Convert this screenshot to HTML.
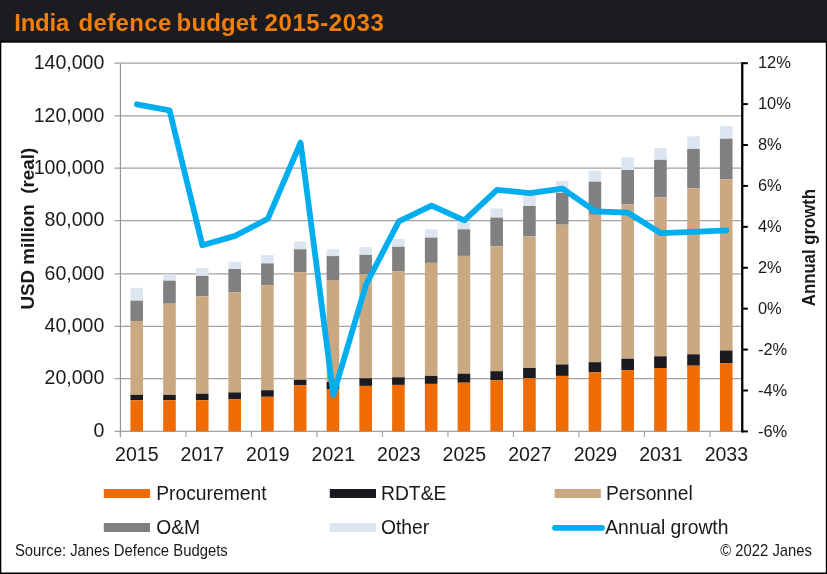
<!DOCTYPE html>
<html lang="en"><head><meta charset="utf-8"><title>India defence budget 2015-2033</title>
<style>
html,body{margin:0;padding:0;background:#fff;}
body{width:827px;height:574px;position:relative;overflow:hidden;font-family:"Liberation Sans",Arial,sans-serif;}
#hdr{position:absolute;left:0;top:0;width:827px;height:42px;background:#1c1c20;}
#hdr h1{margin:0;position:absolute;left:0;top:9.2px;width:400px;height:28px;font-size:24px;line-height:28px;font-weight:bold;color:#f07e0a;white-space:nowrap;}
#hdr h1 span{position:absolute;top:0;}
#hdr{will-change:transform}
</style></head><body>
<div id="hdr"><h1><span style="left:14.2px;letter-spacing:-0.2px">India</span> <span style="left:78.4px;letter-spacing:0.38px">defence</span> <span style="left:176.6px;letter-spacing:0.14px">budget</span> <span style="left:264.6px;letter-spacing:0.56px">2015-2033</span></h1></div>
<svg width="827" height="574" viewBox="0 0 827 574" style="position:absolute;left:0;top:0;will-change:transform">
<rect x="0" y="40.7" width="827" height="2" fill="#060608"/><rect x="0" y="42" width="1.3" height="532" fill="#000"/><rect x="825.8" y="42" width="1.2" height="532" fill="#000"/><rect x="0" y="572.5" width="827" height="1.5" fill="#000"/>
<line x1="114.45" y1="431.35" x2="742.25" y2="431.35" stroke="#a2a2a2" stroke-width="1.2"/>
<line x1="114.45" y1="378.60" x2="742.25" y2="378.60" stroke="#a2a2a2" stroke-width="1.2"/>
<line x1="114.45" y1="326.30" x2="742.25" y2="326.30" stroke="#a2a2a2" stroke-width="1.2"/>
<line x1="114.45" y1="273.90" x2="742.25" y2="273.90" stroke="#a2a2a2" stroke-width="1.2"/>
<line x1="114.45" y1="220.70" x2="742.25" y2="220.70" stroke="#a2a2a2" stroke-width="1.2"/>
<line x1="114.45" y1="168.20" x2="742.25" y2="168.20" stroke="#a2a2a2" stroke-width="1.2"/>
<line x1="114.45" y1="115.80" x2="742.25" y2="115.80" stroke="#a2a2a2" stroke-width="1.2"/>
<line x1="114.45" y1="63.20" x2="742.25" y2="63.20" stroke="#a2a2a2" stroke-width="1.2"/>
<line x1="120.45" y1="63.2" x2="120.45" y2="437.2" stroke="#959595" stroke-width="1.2"/>
<line x1="120.45" y1="431.4" x2="120.45" y2="436.9" stroke="#a2a2a2" stroke-width="1.2"/>
<line x1="185.95" y1="431.4" x2="185.95" y2="436.9" stroke="#a2a2a2" stroke-width="1.2"/>
<line x1="251.45" y1="431.4" x2="251.45" y2="436.9" stroke="#a2a2a2" stroke-width="1.2"/>
<line x1="316.95" y1="431.4" x2="316.95" y2="436.9" stroke="#a2a2a2" stroke-width="1.2"/>
<line x1="382.45" y1="431.4" x2="382.45" y2="436.9" stroke="#a2a2a2" stroke-width="1.2"/>
<line x1="447.95" y1="431.4" x2="447.95" y2="436.9" stroke="#a2a2a2" stroke-width="1.2"/>
<line x1="513.45" y1="431.4" x2="513.45" y2="436.9" stroke="#a2a2a2" stroke-width="1.2"/>
<line x1="578.95" y1="431.4" x2="578.95" y2="436.9" stroke="#a2a2a2" stroke-width="1.2"/>
<line x1="644.45" y1="431.4" x2="644.45" y2="436.9" stroke="#a2a2a2" stroke-width="1.2"/>
<line x1="709.95" y1="431.4" x2="709.95" y2="436.9" stroke="#a2a2a2" stroke-width="1.2"/>
<rect x="130.42" y="287.8" width="12.6" height="12.90" fill="#dde6f0"/>
<rect x="130.42" y="300.7" width="12.6" height="20.30" fill="#808080"/>
<rect x="130.42" y="321.0" width="12.6" height="73.90" fill="#c9a882"/>
<rect x="130.42" y="394.9" width="12.6" height="5.30" fill="#1b1b1f"/>
<rect x="130.42" y="400.2" width="12.6" height="31.20" fill="#ee6c03"/>
<rect x="163.17" y="274.4" width="12.6" height="6.30" fill="#dde6f0"/>
<rect x="163.17" y="280.7" width="12.6" height="23.00" fill="#808080"/>
<rect x="163.17" y="303.7" width="12.6" height="91.20" fill="#c9a882"/>
<rect x="163.17" y="394.9" width="12.6" height="5.30" fill="#1b1b1f"/>
<rect x="163.17" y="400.2" width="12.6" height="31.20" fill="#ee6c03"/>
<rect x="195.92" y="267.8" width="12.6" height="8.10" fill="#dde6f0"/>
<rect x="195.92" y="275.9" width="12.6" height="20.40" fill="#808080"/>
<rect x="195.92" y="296.3" width="12.6" height="97.40" fill="#c9a882"/>
<rect x="195.92" y="393.7" width="12.6" height="6.50" fill="#1b1b1f"/>
<rect x="195.92" y="400.2" width="12.6" height="31.20" fill="#ee6c03"/>
<rect x="228.37" y="261.7" width="12.6" height="7.30" fill="#dde6f0"/>
<rect x="228.37" y="269.0" width="12.6" height="23.20" fill="#808080"/>
<rect x="228.37" y="292.2" width="12.6" height="100.20" fill="#c9a882"/>
<rect x="228.37" y="392.4" width="12.6" height="6.90" fill="#1b1b1f"/>
<rect x="228.37" y="399.3" width="12.6" height="32.10" fill="#ee6c03"/>
<rect x="261.12" y="255.1" width="12.6" height="8.30" fill="#dde6f0"/>
<rect x="261.12" y="263.4" width="12.6" height="21.70" fill="#808080"/>
<rect x="261.12" y="285.1" width="12.6" height="105.10" fill="#c9a882"/>
<rect x="261.12" y="390.2" width="12.6" height="6.60" fill="#1b1b1f"/>
<rect x="261.12" y="396.8" width="12.6" height="34.60" fill="#ee6c03"/>
<rect x="293.88" y="241.5" width="12.6" height="7.80" fill="#dde6f0"/>
<rect x="293.88" y="249.3" width="12.6" height="22.90" fill="#808080"/>
<rect x="293.88" y="272.2" width="12.6" height="107.60" fill="#c9a882"/>
<rect x="293.88" y="379.8" width="12.6" height="5.30" fill="#1b1b1f"/>
<rect x="293.88" y="385.1" width="12.6" height="46.30" fill="#ee6c03"/>
<rect x="326.62" y="249.3" width="12.6" height="6.80" fill="#dde6f0"/>
<rect x="326.62" y="256.1" width="12.6" height="23.90" fill="#808080"/>
<rect x="326.62" y="280.0" width="12.6" height="102.00" fill="#c9a882"/>
<rect x="326.62" y="382.0" width="12.6" height="7.50" fill="#1b1b1f"/>
<rect x="326.62" y="389.5" width="12.6" height="41.90" fill="#ee6c03"/>
<rect x="359.38" y="247.1" width="12.6" height="7.80" fill="#dde6f0"/>
<rect x="359.38" y="254.9" width="12.6" height="19.50" fill="#808080"/>
<rect x="359.38" y="274.4" width="12.6" height="103.90" fill="#c9a882"/>
<rect x="359.38" y="378.3" width="12.6" height="7.60" fill="#1b1b1f"/>
<rect x="359.38" y="385.9" width="12.6" height="45.50" fill="#ee6c03"/>
<rect x="392.12" y="239.0" width="12.6" height="7.80" fill="#dde6f0"/>
<rect x="392.12" y="246.8" width="12.6" height="24.40" fill="#808080"/>
<rect x="392.12" y="271.2" width="12.6" height="106.10" fill="#c9a882"/>
<rect x="392.12" y="377.3" width="12.6" height="7.60" fill="#1b1b1f"/>
<rect x="392.12" y="384.9" width="12.6" height="46.50" fill="#ee6c03"/>
<rect x="424.88" y="229.3" width="12.6" height="8.30" fill="#dde6f0"/>
<rect x="424.88" y="237.6" width="12.6" height="25.30" fill="#808080"/>
<rect x="424.88" y="262.9" width="12.6" height="113.00" fill="#c9a882"/>
<rect x="424.88" y="375.9" width="12.6" height="8.00" fill="#1b1b1f"/>
<rect x="424.88" y="383.9" width="12.6" height="47.50" fill="#ee6c03"/>
<rect x="457.62" y="221.5" width="12.6" height="7.80" fill="#dde6f0"/>
<rect x="457.62" y="229.3" width="12.6" height="26.60" fill="#808080"/>
<rect x="457.62" y="255.9" width="12.6" height="117.80" fill="#c9a882"/>
<rect x="457.62" y="373.7" width="12.6" height="9.00" fill="#1b1b1f"/>
<rect x="457.62" y="382.7" width="12.6" height="48.70" fill="#ee6c03"/>
<rect x="490.38" y="208.5" width="12.6" height="9.10" fill="#dde6f0"/>
<rect x="490.38" y="217.6" width="12.6" height="28.70" fill="#808080"/>
<rect x="490.38" y="246.3" width="12.6" height="124.90" fill="#c9a882"/>
<rect x="490.38" y="371.2" width="12.6" height="9.00" fill="#1b1b1f"/>
<rect x="490.38" y="380.2" width="12.6" height="51.20" fill="#ee6c03"/>
<rect x="523.13" y="194.9" width="12.6" height="11.10" fill="#dde6f0"/>
<rect x="523.13" y="206.0" width="12.6" height="30.40" fill="#808080"/>
<rect x="523.13" y="236.4" width="12.6" height="131.60" fill="#c9a882"/>
<rect x="523.13" y="368.0" width="12.6" height="10.30" fill="#1b1b1f"/>
<rect x="523.13" y="378.3" width="12.6" height="53.10" fill="#ee6c03"/>
<rect x="555.88" y="181.1" width="12.6" height="11.70" fill="#dde6f0"/>
<rect x="555.88" y="192.8" width="12.6" height="31.90" fill="#808080"/>
<rect x="555.88" y="224.7" width="12.6" height="139.80" fill="#c9a882"/>
<rect x="555.88" y="364.5" width="12.6" height="11.40" fill="#1b1b1f"/>
<rect x="555.88" y="375.9" width="12.6" height="55.50" fill="#ee6c03"/>
<rect x="588.63" y="170.6" width="12.6" height="11.10" fill="#dde6f0"/>
<rect x="588.63" y="181.7" width="12.6" height="33.10" fill="#808080"/>
<rect x="588.63" y="214.8" width="12.6" height="147.40" fill="#c9a882"/>
<rect x="588.63" y="362.2" width="12.6" height="10.20" fill="#1b1b1f"/>
<rect x="588.63" y="372.4" width="12.6" height="59.00" fill="#ee6c03"/>
<rect x="621.38" y="157.4" width="12.6" height="12.60" fill="#dde6f0"/>
<rect x="621.38" y="170.0" width="12.6" height="34.50" fill="#808080"/>
<rect x="621.38" y="204.5" width="12.6" height="154.20" fill="#c9a882"/>
<rect x="621.38" y="358.7" width="12.6" height="11.40" fill="#1b1b1f"/>
<rect x="621.38" y="370.1" width="12.6" height="61.30" fill="#ee6c03"/>
<rect x="654.13" y="148.0" width="12.6" height="11.80" fill="#dde6f0"/>
<rect x="654.13" y="159.8" width="12.6" height="37.70" fill="#808080"/>
<rect x="654.13" y="197.5" width="12.6" height="158.80" fill="#c9a882"/>
<rect x="654.13" y="356.3" width="12.6" height="11.70" fill="#1b1b1f"/>
<rect x="654.13" y="368.0" width="12.6" height="63.40" fill="#ee6c03"/>
<rect x="687.18" y="136.3" width="12.6" height="12.60" fill="#dde6f0"/>
<rect x="687.18" y="148.9" width="12.6" height="39.50" fill="#808080"/>
<rect x="687.18" y="188.4" width="12.6" height="165.90" fill="#c9a882"/>
<rect x="687.18" y="354.3" width="12.6" height="11.40" fill="#1b1b1f"/>
<rect x="687.18" y="365.7" width="12.6" height="65.70" fill="#ee6c03"/>
<rect x="719.93" y="126.1" width="12.6" height="12.60" fill="#dde6f0"/>
<rect x="719.93" y="138.7" width="12.6" height="40.70" fill="#808080"/>
<rect x="719.93" y="179.4" width="12.6" height="171.10" fill="#c9a882"/>
<rect x="719.93" y="350.5" width="12.6" height="12.60" fill="#1b1b1f"/>
<rect x="719.93" y="363.1" width="12.6" height="68.30" fill="#ee6c03"/>
<line x1="742.25" y1="62.2" x2="742.25" y2="432.4" stroke="#000" stroke-width="2.3"/>
<line x1="742.25" y1="431.40" x2="747.85" y2="431.40" stroke="#000" stroke-width="2"/>
<line x1="742.25" y1="390.49" x2="747.85" y2="390.49" stroke="#000" stroke-width="2"/>
<line x1="742.25" y1="349.58" x2="747.85" y2="349.58" stroke="#000" stroke-width="2"/>
<line x1="742.25" y1="308.67" x2="747.85" y2="308.67" stroke="#000" stroke-width="2"/>
<line x1="742.25" y1="267.76" x2="747.85" y2="267.76" stroke="#000" stroke-width="2"/>
<line x1="742.25" y1="226.84" x2="747.85" y2="226.84" stroke="#000" stroke-width="2"/>
<line x1="742.25" y1="185.93" x2="747.85" y2="185.93" stroke="#000" stroke-width="2"/>
<line x1="742.25" y1="145.02" x2="747.85" y2="145.02" stroke="#000" stroke-width="2"/>
<line x1="742.25" y1="104.11" x2="747.85" y2="104.11" stroke="#000" stroke-width="2"/>
<line x1="742.25" y1="63.20" x2="747.85" y2="63.20" stroke="#000" stroke-width="2"/>
<polyline points="136.82,104.30 169.57,110.40 202.32,245.30 235.07,235.90 267.82,218.80 300.57,142.60 333.32,394.80 366.07,284.50 398.82,221.30 431.57,205.70 464.32,220.30 497.07,189.80 529.83,193.10 562.58,188.70 595.33,211.30 628.08,212.70 660.83,233.20 693.58,231.80 726.33,230.30" fill="none" stroke="#00aeef" stroke-width="5.8" stroke-linejoin="round" stroke-linecap="round"/>
<text transform="translate(104.3,437.05) scale(0.978,1)" text-anchor="end" font-family="Liberation Sans, Arial, sans-serif" font-size="20" fill="#1a1a1a">0</text>
<text transform="translate(104.3,384.30) scale(0.978,1)" text-anchor="end" font-family="Liberation Sans, Arial, sans-serif" font-size="20" fill="#1a1a1a">20,000</text>
<text transform="translate(104.3,332.00) scale(0.978,1)" text-anchor="end" font-family="Liberation Sans, Arial, sans-serif" font-size="20" fill="#1a1a1a">40,000</text>
<text transform="translate(104.3,279.60) scale(0.978,1)" text-anchor="end" font-family="Liberation Sans, Arial, sans-serif" font-size="20" fill="#1a1a1a">60,000</text>
<text transform="translate(104.3,226.40) scale(0.978,1)" text-anchor="end" font-family="Liberation Sans, Arial, sans-serif" font-size="20" fill="#1a1a1a">80,000</text>
<text transform="translate(104.3,173.90) scale(0.978,1)" text-anchor="end" font-family="Liberation Sans, Arial, sans-serif" font-size="20" fill="#1a1a1a">100,000</text>
<text transform="translate(104.3,121.50) scale(0.978,1)" text-anchor="end" font-family="Liberation Sans, Arial, sans-serif" font-size="20" fill="#1a1a1a">120,000</text>
<text transform="translate(104.3,68.90) scale(0.978,1)" text-anchor="end" font-family="Liberation Sans, Arial, sans-serif" font-size="20" fill="#1a1a1a">140,000</text>
<text transform="translate(757.9,436.50) scale(0.975,1)" font-family="Liberation Sans, Arial, sans-serif" font-size="16.9" fill="#1a1a1a">-6%</text>
<text transform="translate(757.9,395.59) scale(0.975,1)" font-family="Liberation Sans, Arial, sans-serif" font-size="16.9" fill="#1a1a1a">-4%</text>
<text transform="translate(757.9,354.68) scale(0.975,1)" font-family="Liberation Sans, Arial, sans-serif" font-size="16.9" fill="#1a1a1a">-2%</text>
<text transform="translate(757.9,313.77) scale(0.975,1)" font-family="Liberation Sans, Arial, sans-serif" font-size="16.9" fill="#1a1a1a">0%</text>
<text transform="translate(757.9,272.86) scale(0.975,1)" font-family="Liberation Sans, Arial, sans-serif" font-size="16.9" fill="#1a1a1a">2%</text>
<text transform="translate(757.9,231.94) scale(0.975,1)" font-family="Liberation Sans, Arial, sans-serif" font-size="16.9" fill="#1a1a1a">4%</text>
<text transform="translate(757.9,191.03) scale(0.975,1)" font-family="Liberation Sans, Arial, sans-serif" font-size="16.9" fill="#1a1a1a">6%</text>
<text transform="translate(757.9,150.12) scale(0.975,1)" font-family="Liberation Sans, Arial, sans-serif" font-size="16.9" fill="#1a1a1a">8%</text>
<text transform="translate(757.9,109.21) scale(0.975,1)" font-family="Liberation Sans, Arial, sans-serif" font-size="16.9" fill="#1a1a1a">10%</text>
<text transform="translate(757.9,68.30) scale(0.975,1)" font-family="Liberation Sans, Arial, sans-serif" font-size="16.9" fill="#1a1a1a">12%</text>
<text x="136.82" y="461" text-anchor="middle" font-family="Liberation Sans, Arial, sans-serif" font-size="19.5" fill="#1a1a1a">2015</text>
<text x="202.32" y="461" text-anchor="middle" font-family="Liberation Sans, Arial, sans-serif" font-size="19.5" fill="#1a1a1a">2017</text>
<text x="267.82" y="461" text-anchor="middle" font-family="Liberation Sans, Arial, sans-serif" font-size="19.5" fill="#1a1a1a">2019</text>
<text x="333.32" y="461" text-anchor="middle" font-family="Liberation Sans, Arial, sans-serif" font-size="19.5" fill="#1a1a1a">2021</text>
<text x="398.82" y="461" text-anchor="middle" font-family="Liberation Sans, Arial, sans-serif" font-size="19.5" fill="#1a1a1a">2023</text>
<text x="464.32" y="461" text-anchor="middle" font-family="Liberation Sans, Arial, sans-serif" font-size="19.5" fill="#1a1a1a">2025</text>
<text x="529.83" y="461" text-anchor="middle" font-family="Liberation Sans, Arial, sans-serif" font-size="19.5" fill="#1a1a1a">2027</text>
<text x="595.33" y="461" text-anchor="middle" font-family="Liberation Sans, Arial, sans-serif" font-size="19.5" fill="#1a1a1a">2029</text>
<text x="660.83" y="461" text-anchor="middle" font-family="Liberation Sans, Arial, sans-serif" font-size="19.5" fill="#1a1a1a">2031</text>
<text x="726.33" y="461" text-anchor="middle" font-family="Liberation Sans, Arial, sans-serif" font-size="19.5" fill="#1a1a1a">2033</text>
<text transform="translate(33.6,309.6) rotate(-90)" font-family="Liberation Sans, Arial, sans-serif" font-size="18.8" font-weight="bold" fill="#1a1a1a" style="white-space:pre">USD million  (real)</text>
<text transform="translate(814.7,247.6) rotate(-90) scale(0.9,1)" text-anchor="middle" font-family="Liberation Sans, Arial, sans-serif" font-size="18.6" font-weight="bold" fill="#1a1a1a">Annual growth</text>
<rect x="103.8" y="489" width="46.2" height="9" fill="#ee6c03"/>
<text x="156.2" y="499.7" font-family="Liberation Sans, Arial, sans-serif" font-size="19.3" fill="#1a1a1a">Procurement</text>
<rect x="329.8" y="489" width="46.2" height="9" fill="#1b1b1f"/>
<text x="381" y="499.7" font-family="Liberation Sans, Arial, sans-serif" font-size="19.3" fill="#1a1a1a">RDT&amp;E</text>
<rect x="554.6" y="489" width="46.2" height="9" fill="#c9a882"/>
<text x="606" y="499.7" font-family="Liberation Sans, Arial, sans-serif" font-size="19.3" fill="#1a1a1a">Personnel</text>
<rect x="103.8" y="523" width="46.2" height="9" fill="#808080"/>
<text x="156.2" y="533.7" font-family="Liberation Sans, Arial, sans-serif" font-size="19.3" fill="#1a1a1a">O&amp;M</text>
<rect x="329.8" y="523" width="46.2" height="9" fill="#dde6f0"/>
<text x="381" y="533.7" font-family="Liberation Sans, Arial, sans-serif" font-size="19.3" fill="#1a1a1a">Other</text>
<line x1="555" y1="527.8" x2="602" y2="527.8" stroke="#00aeef" stroke-width="5.8" stroke-linecap="round"/>
<text x="605.2" y="533.7" font-family="Liberation Sans, Arial, sans-serif" font-size="19.3" fill="#1a1a1a">Annual growth</text>
<text transform="translate(14.9,556.2) scale(0.928,1)" font-family="Liberation Sans, Arial, sans-serif" font-size="16" fill="#1a1a1a">Source: Janes Defence Budgets</text>
<text transform="translate(811.9,556.2) scale(0.926,1)" text-anchor="end" font-family="Liberation Sans, Arial, sans-serif" font-size="16" fill="#1a1a1a">© 2022 Janes</text>
</svg>
</body></html>
